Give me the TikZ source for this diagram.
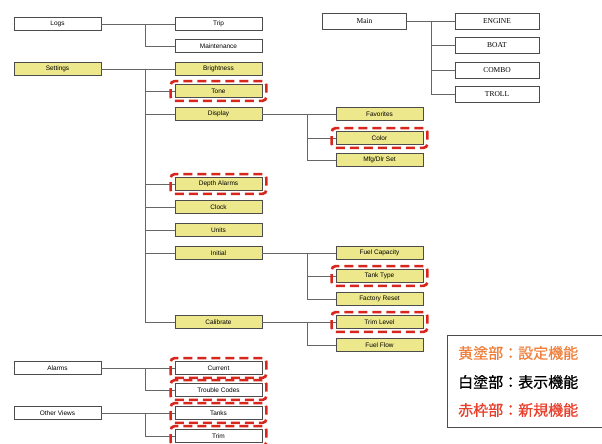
\documentclass[tikz,border=0pt]{standalone}
\usepackage{fontspec}
\setmainfont{Liberation Sans}
\newfontfamily\serifbox{Liberation Serif}
\newfontfamily\cjk[FakeBold=0.7]{Noto Sans CJK JP}
\usepackage{tikz}
\usetikzlibrary{fit}
\definecolor{setyel}{HTML}{EDE88C}
\definecolor{newred}{HTML}{D8261C}
\definecolor{legorange}{HTML}{F0803C}
\definecolor{legred}{HTML}{E8402C}
\tikzstyle{menu} = [draw=black!70,line width=.8pt,minimum width=87pt,minimum height=13pt,inner sep=0pt,font=\fontsize{6.5}{7}\selectfont]
\tikzstyle{setbox} = [menu,fill=setyel]
\tikzstyle{viewbox} = [menu,fill=white]
\tikzstyle{modebox} = [menu,fill=white,minimum width=84pt,minimum height=16pt,font=\serifbox\fontsize{7.5}{8}\selectfont]
\tikzstyle{newfn} = [draw=newred,line width=2.6pt,dash pattern=on 9pt off 5pt,rounded corners=4pt,inner xsep=4pt,inner ysep=3pt]
\tikzstyle{link} = [black!60,line width=.8pt]
\tikzstyle{legtext} = [anchor=west,inner sep=0pt,font=\cjk\fontsize{15}{16}\selectfont]

\begin{document}
\begin{tikzpicture}[x=1pt,y=-1pt]
      \useasboundingbox (0,0) rectangle (602,444);
      % left column
      \node[viewbox] (logs) at (57.5,24) {Logs};
      \node[setbox] (settings) at (57.5,69) {Settings};
      \node[viewbox] (alarms) at (57.5,368) {Alarms};
      \node[viewbox] (other) at (57.5,413) {Other Views};
      % second column
      \node[viewbox] (trip) at (218.5,24) {Trip};
      \node[viewbox] (maint) at (218.5,46) {Maintenance};
      \node[setbox] (bright) at (218.5,69) {Brightness};
      \node[setbox] (tone) at (218.5,91) {Tone};
      \node[setbox] (display) at (218.5,114) {Display};
      \node[setbox] (depth) at (218.5,184) {Depth Alarms};
      \node[setbox] (clock) at (218.5,207) {Clock};
      \node[setbox] (units) at (218.5,230) {Units};
      \node[setbox] (initial) at (218.5,253) {Initial};
      \node[setbox] (calib) at (218.5,322) {Calibrate};
      \node[viewbox] (current) at (218.5,368) {Current};
      \node[viewbox] (trouble) at (218.5,390) {Trouble Codes};
      \node[viewbox] (tanks) at (218.5,413) {Tanks};
      \node[viewbox] (trim) at (218.5,436) {Trim};
      % third column
      \node[setbox] (fav) at (379.5,114) {Favorites};
      \node[setbox] (color) at (379.5,138) {Color};
      \node[setbox] (mfg) at (379.5,160) {Mfg/Dlr Set};
      \node[setbox] (fuelcap) at (379.5,253) {Fuel Capacity};
      \node[setbox] (tank) at (379.5,276) {Tank Type};
      \node[setbox] (factory) at (379.5,299) {Factory Reset};
      \node[setbox] (trimlvl) at (379.5,322) {Trim Level};
      \node[setbox] (fuelflow) at (379.5,345) {Fuel Flow};
      % main modes
      \node[modebox] (main) at (364.5,21) {Main};
      \node[modebox] (engine) at (497,21) {ENGINE};
      \node[modebox] (boat) at (497,45) {BOAT};
      \node[modebox] (combo) at (497,70) {COMBO};
      \node[modebox] (troll) at (497,94) {TROLL};
      % branch points
      \coordinate (blogs) at (145,24);
      \coordinate (bset) at (145,69);
      \coordinate (balarm) at (145,368);
      \coordinate (bother) at (145,413);
      \coordinate (bdisp) at (307,114);
      \coordinate (binit) at (307,253);
      \coordinate (bcal) at (307,322);
      \coordinate (bmain) at (431,21);
      \draw[link](logs)--(trip)(blogs)|-(maint.west);
      \draw[link](settings)--(bright);
      \foreach \c in {tone,display,depth,clock,units,initial,calib}
        \draw[link](bset)|-(\c.west);
      \draw[link](display)--(fav);
      \foreach \c in {color,mfg} \draw[link](bdisp)|-(\c.west);
      \draw[link](initial)--(fuelcap);
      \foreach \c in {tank,factory} \draw[link](binit)|-(\c.west);
      \draw[link](calib)--(trimlvl)(bcal)|-(fuelflow.west);
      \draw[link](alarms)--(current)(balarm)|-(trouble.west);
      \draw[link](other)--(tanks)(bother)|-(trim.west);
      \draw[link](main)--(engine);
      \foreach \c in {boat,combo,troll} \draw[link](bmain)|-(\c.west);
      % new functions
      \foreach \c in {tone,color,depth,tank,trimlvl,current,trouble,tanks,trim}
        \node[newfn,fit=(\c)] (new-\c) {};
      % legend
      \node[draw=black!70,line width=.8pt,minimum width=156pt,minimum height=92pt,anchor=north west] (legend) at (447,335) {};
      \node[legtext,text=legorange] (leg1) at (458,353) {黄塗部：設定機能};
      \node[legtext] (leg2) at (458,382) {白塗部：表示機能};
      \node[legtext,text=legred] (leg3) at (458,410) {赤枠部：新規機能};
    \end{tikzpicture}
\end{document}
